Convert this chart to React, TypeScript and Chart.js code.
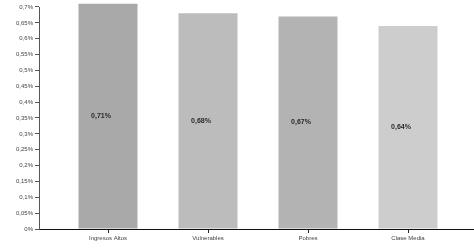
import React, { useEffect, useRef } from "react";
import { Chart, registerables } from "chart.js";

Chart.register(...registerables);

const categories = ["Ingresos Altos", "Vulnerables", "Pobres", "Clase Media"];
const values = [0.71, 0.68, 0.67, 0.64];
const valueLabels = ["0,71%", "0,68%", "0,67%", "0,64%"];
const barColors = ["#a9a9a9", "#bcbcbc", "#b3b3b3", "#cdcdcd"];

const fmtPct = (v: number) => {
  const r = Math.round(v * 100) / 100;
  return String(r).replace(".", ",") + "%";
};

const labelPlugin = {
  id: "barLabels",
  afterDatasetsDraw(chart: any) {
    const meta = chart.getDatasetMeta(0);
    const ctx = chart.ctx;
    ctx.save();
    ctx.font = "bold 7px Arial, 'Liberation Sans', sans-serif";
    ctx.fillStyle = "#2a2a2a";
    ctx.textAlign = "center";
    ctx.textBaseline = "middle";
    meta.data.forEach((bar: any, i: number) => {
      const y = (bar.y + bar.base) / 2;
      ctx.fillText(valueLabels[i], bar.x - 7, y);
    });
    ctx.restore();
  },
};

export default function App() {
  const ref = useRef<HTMLCanvasElement | null>(null);
  useEffect(() => {
    document.body.style.margin = "0";
    const chart = new Chart(ref.current!, {
      type: "bar",
      data: {
        datasets: [
          {
            data: values.map((v, i) => ({ x: i, y: v })),
            backgroundColor: barColors,
            barPercentage: 0.59,
            categoryPercentage: 1,
            clip: false as any,
          },
        ],
      },
      options: {
        responsive: false,
        animation: false,
        maintainAspectRatio: false,
        layout: { padding: { top: 7, right: 0, left: 0, bottom: 0 } },
        plugins: { legend: { display: false }, tooltip: { enabled: false } },
        scales: {
          x: {
            type: "linear",
            offset: false,
            min: -0.69,
            max: 3.66,
            afterBuildTicks: (scale: any) => {
              scale.ticks = categories.map((_, i) => ({ value: i }));
            },
            afterFit: (scale: any) => {
              scale.height = 20;
            },
            ticks: {
              autoSkip: false,
              maxRotation: 0,
              padding: 2,
              font: { size: 6, family: "Arial, 'Liberation Sans', sans-serif" },
              color: "#444",
              callback: (v: any) => categories[v as number] ?? "",
            },
            grid: { offset: false, drawOnChartArea: false, tickLength: 4, color: "#222" },
            border: { color: "#111", width: 1 },
          },
          y: {
            min: 0,
            max: 0.7,
            afterBuildTicks: (scale: any) => {
              const t = [];
              for (let k = 0; k <= 14; k++) t.push({ value: k * 0.05 });
              scale.ticks = t;
            },
            afterFit: (scale: any) => {
              scale.width = 39;
            },
            ticks: {
              padding: 2,
              font: { size: 6, family: "Arial, 'Liberation Sans', sans-serif" },
              color: "#444",
              callback: (v: any) => fmtPct(v as number),
            },
            grid: { drawOnChartArea: false, tickLength: 4, color: "#555" },
            border: { color: "#555", width: 1 },
          },
        },
      },
      plugins: [labelPlugin],
    });
    return () => chart.destroy();
  }, []);
  return (
    <div style={{ position: "absolute", left: 0, top: 0, width: 474, height: 249, background: "#fff" }}>
      <canvas ref={ref} width={474} height={249} />
    </div>
  );
}
